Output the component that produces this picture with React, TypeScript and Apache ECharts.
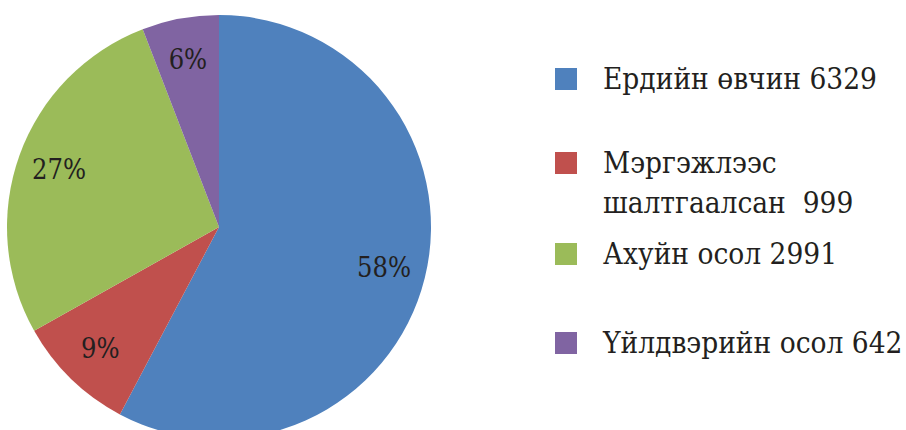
import React, { useEffect, useRef } from "react";
import * as echarts from "echarts";

const categories = ["Ердийн өвчин", "Мэргэжлээс шалтгаалсан", "Ахуйн осол", "Үйлдвэрийн осол"];
const values = [6329, 999, 2991, 642];
const colors = ["#4f81bd", "#c0504d", "#9bbb59", "#8064a2"];
const legendLabels = [
  "Ердийн өвчин 6329",
  "\nМэргэжлээс\nшалтгаалсан  999",
  "Ахуйн осол 2991",
  "Үйлдвэрийн осол 642",
];

const FONT = "DejaVu Serif Condensed";
const TEXT = "#231f20";

export default function App() {
  const ref = useRef<HTMLDivElement>(null);
  useEffect(() => {
    if (!ref.current) return;
    const chart = echarts.init(ref.current, null, { renderer: "svg" });
    const data = categories.map((c, i) => ({ name: c, value: values[i], itemStyle: { color: colors[i] } }));
    const legendCenters = [79, 163, 254, 343];
    const legends = categories.map((c, i) => {
      const lines = legendLabels[i].split("\n").length;
      const boxH = lines * 40;
      return {
        data: [c],
        orient: "vertical",
        left: 555,
        top: legendCenters[i] - boxH / 2,
        padding: 0,
        itemWidth: 22,
        itemHeight: 22,
        icon: "rect",
        selectedMode: false,
        formatter: () => legendLabels[i],
        textStyle: {
          fontFamily: FONT,
          fontSize: 29.5,
          color: TEXT,
          lineHeight: 40,
          padding: [0, 0, 0, 21],
        },
      };
    });
    chart.setOption({
      animation: false,
      backgroundColor: "#ffffff",
      textStyle: { fontFamily: FONT },
      legend: legends,
      series: [
        {
          type: "pie",
          center: [219, 227],
          radius: [0, 212],
          startAngle: 90,
          clockwise: true,
          silent: true,
          label: { show: false },
          labelLine: { show: false },
          itemStyle: { borderWidth: 0 },
          data,
        },
        {
          type: "pie",
          center: [219, 227],
          radius: [122, 212],
          startAngle: 90,
          clockwise: true,
          silent: true,
          legendHoverLink: false,
          itemStyle: { color: "transparent", borderWidth: 0 },
          label: {
            show: true,
            position: "inside",
            formatter: (p: any) => Math.round(p.percent) + "%",
            fontFamily: FONT,
            fontSize: 27,
            color: TEXT,
          },
          labelLine: { show: false },
          data: categories.map((c, i) => ({ name: c, value: values[i] })),
        },
      ],
    });
    return () => chart.dispose();
  }, []);
  return (
    <div
      ref={ref}
      style={{ position: "fixed", left: 0, top: 0, width: 906, height: 430 }}
    />
  );
}
